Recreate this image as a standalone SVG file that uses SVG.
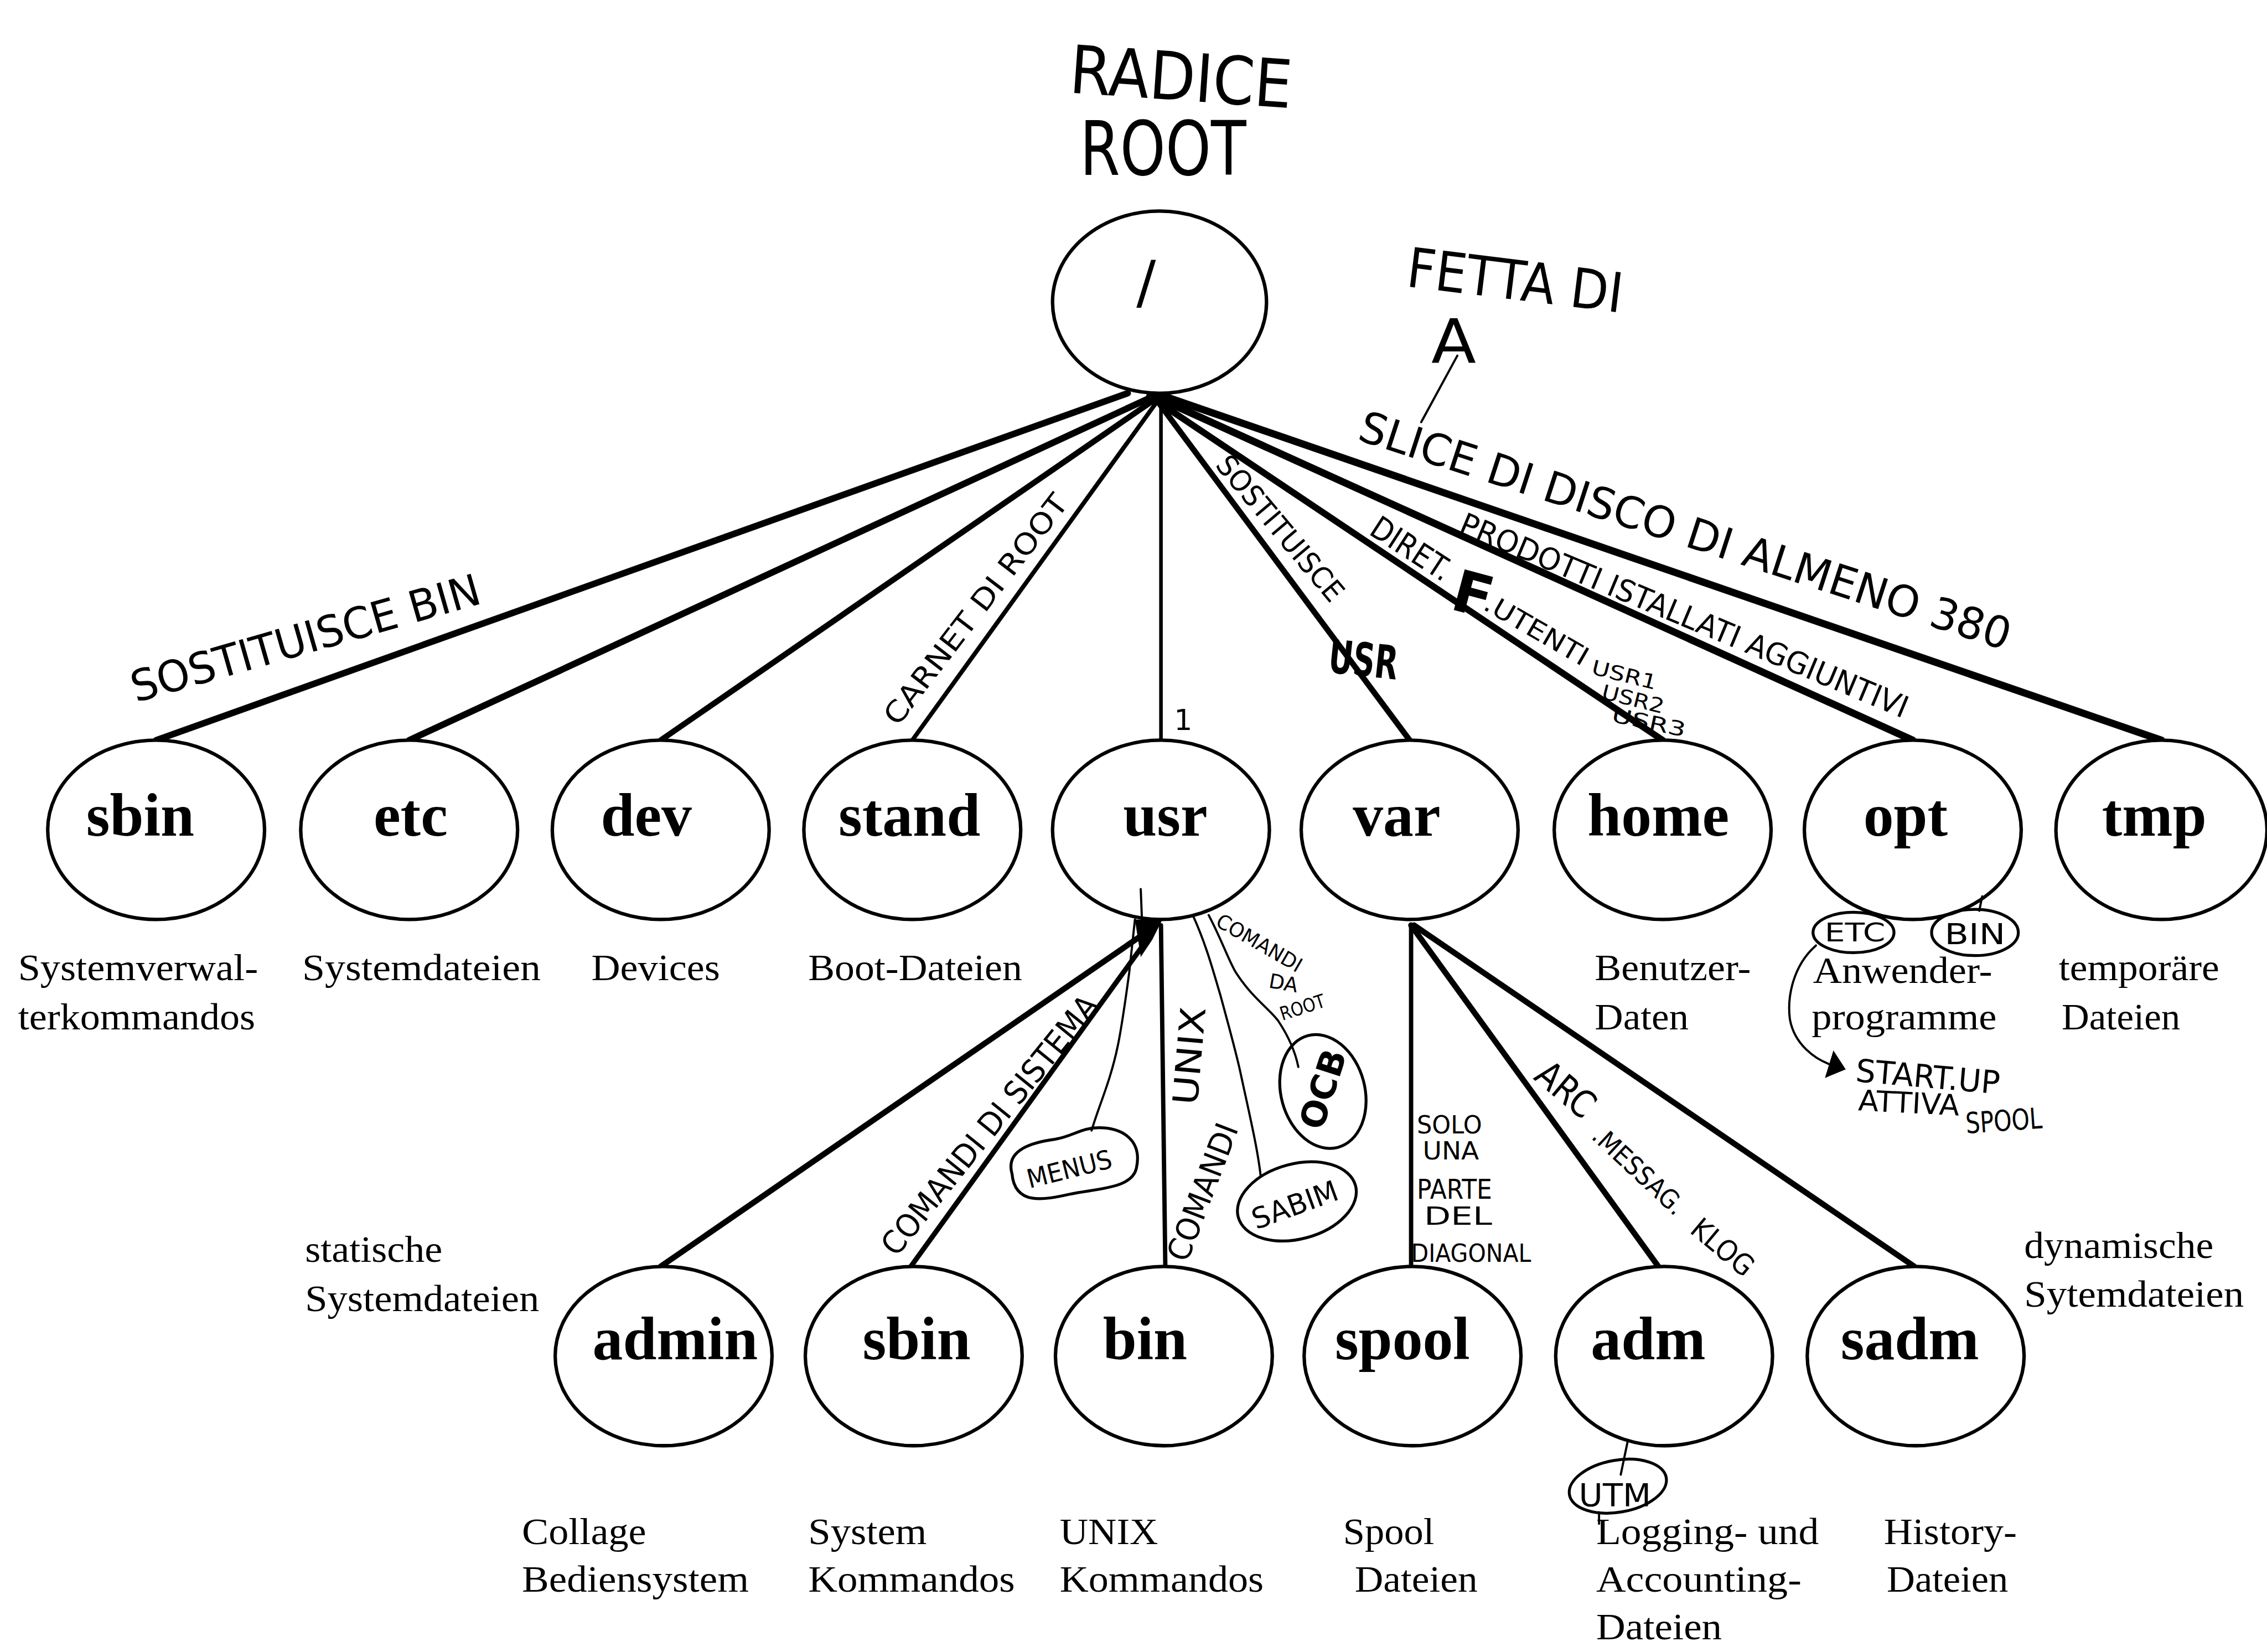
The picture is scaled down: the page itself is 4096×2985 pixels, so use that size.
<svg xmlns="http://www.w3.org/2000/svg" width="4096" height="2985" viewBox="0 0 4096 2985">
<style>
.node{fill:#fff;stroke:#000;stroke-width:2.4}
.lbl{font-family:"Liberation Serif",serif;font-weight:bold;font-size:42px;text-anchor:middle;fill:#000}
.desc{font-family:"Liberation Serif",serif;font-size:26px;fill:#000}
.hand{font-family:"DejaVu Sans","Liberation Sans",sans-serif;fill:#000}
.edge{stroke:#000;fill:none;stroke-linecap:round}
.pen{stroke:#000;fill:none;stroke-width:1.5;stroke-linecap:round;stroke-linejoin:round}
.blob{fill:none;stroke:#000;stroke-width:2}
</style>
<defs>
<marker id="head" markerUnits="userSpaceOnUse" markerWidth="12" markerHeight="20" refX="3" refY="10" orient="auto">
<path d="M0,0 L12,10 L0,20 Z" fill="#000"/>
</marker>
</defs>
<rect width="4096" height="2985" fill="#fff"/>
<g transform="scale(2.612245)">

<!-- tree connectors -->
<g id="connectors">
<path class="edge" stroke-width="4.5" d="M780,272 L108,512"/>
<path class="edge" stroke-width="4.5" d="M798,274 L283,512"/>
<path class="edge" stroke-width="4" d="M802,274 L457,512"/>
<path class="edge" stroke-width="3" d="M803,274 L631,512"/>
<path class="edge" stroke-width="2.5" d="M803,274 L803,512"/>
<path class="edge" stroke-width="4" d="M798,274 L975,512"/>
<path class="edge" stroke-width="4.5" d="M795,274 L1150,512"/>
<path class="edge" stroke-width="5" d="M798,274 L1323,512"/>
<path class="edge" stroke-width="5" d="M805,274 L1495,512"/>
<path class="edge" stroke-width="4" d="M797,642 L457,876"/>
<path class="edge" stroke-width="3.5" d="M797,645 L630,876"/>
<path class="edge" stroke-width="3" d="M803,640 L806,876"/>
<path class="edge" stroke-width="3" d="M976,640 L976,876"/>
<path class="edge" stroke-width="4" d="M976,640 L1147,876"/>
<path class="edge" stroke-width="4" d="M978,640 L1324,876"/>
<polygon points="785,636 804,636 797,650 789,662" fill="#000"/>
</g>

<!-- root -->
<g id="node-root">
<ellipse class="node" stroke-width="3" cx="802" cy="209" rx="74" ry="63"/>
</g>

<!-- first level -->
<g id="node-sbin">
<ellipse class="node" cx="108" cy="574" rx="75" ry="62"/>
<text class="lbl" x="97" y="578">sbin</text>
<text class="desc" x="12.5" y="678" textLength="166" lengthAdjust="spacingAndGlyphs">Systemverwal-</text>
<text class="desc" x="12.5" y="712" textLength="164" lengthAdjust="spacingAndGlyphs">terkommandos</text>
</g>
<g id="node-etc">
<ellipse class="node" cx="283" cy="574" rx="75" ry="62"/>
<text class="lbl" x="284" y="578">etc</text>
<text class="desc" x="209" y="678" textLength="165" lengthAdjust="spacingAndGlyphs">Systemdateien</text>
</g>
<g id="node-dev">
<ellipse class="node" cx="457" cy="574" rx="75" ry="62"/>
<text class="lbl" x="447" y="578">dev</text>
<text class="desc" x="409" y="678" textLength="89" lengthAdjust="spacingAndGlyphs">Devices</text>
</g>
<g id="node-stand">
<ellipse class="node" cx="631" cy="574" rx="75" ry="62"/>
<text class="lbl" x="629" y="578">stand</text>
<text class="desc" x="559" y="678" textLength="148" lengthAdjust="spacingAndGlyphs">Boot-Dateien</text>
</g>
<g id="node-usr">
<ellipse class="node" cx="803" cy="574" rx="75" ry="62"/>
<text class="lbl" x="806" y="578">usr</text>
</g>
<g id="node-var">
<ellipse class="node" cx="975" cy="574" rx="75" ry="62"/>
<text class="lbl" x="966" y="578">var</text>
</g>
<g id="node-home">
<ellipse class="node" cx="1150" cy="574" rx="75" ry="62"/>
<text class="lbl" x="1147" y="578">home</text>
<text class="desc" x="1103" y="678" textLength="108" lengthAdjust="spacingAndGlyphs">Benutzer-</text>
<text class="desc" x="1103" y="712" textLength="65" lengthAdjust="spacingAndGlyphs">Daten</text>
</g>
<g id="node-opt">
<ellipse class="node" cx="1323" cy="574" rx="75" ry="62"/>
<text class="lbl" x="1318" y="578">opt</text>
<text class="desc" x="1254" y="680" textLength="124" lengthAdjust="spacingAndGlyphs">Anwender-</text>
<text class="desc" x="1253" y="712" textLength="128" lengthAdjust="spacingAndGlyphs">programme</text>
</g>
<g id="node-tmp">
<ellipse class="node" cx="1495" cy="574" rx="73" ry="62"/>
<text class="lbl" x="1490" y="578">tmp</text>
<text class="desc" x="1424" y="678" textLength="111" lengthAdjust="spacingAndGlyphs">temporäre</text>
<text class="desc" x="1426" y="712" textLength="82" lengthAdjust="spacingAndGlyphs">Dateien</text>
</g>

<!-- second level -->
<g id="node-admin">
<ellipse class="node" cx="459" cy="938" rx="75" ry="62"/>
<text class="lbl" x="467" y="940">admin</text>
<text class="desc" x="361" y="1068" textLength="86" lengthAdjust="spacingAndGlyphs">Collage</text>
<text class="desc" x="361" y="1101" textLength="157" lengthAdjust="spacingAndGlyphs">Bediensystem</text>
</g>
<g id="node-usr-sbin">
<ellipse class="node" cx="632" cy="938" rx="75" ry="62"/>
<text class="lbl" x="634" y="940">sbin</text>
<text class="desc" x="559" y="1068" textLength="82" lengthAdjust="spacingAndGlyphs">System</text>
<text class="desc" x="559" y="1101" textLength="143" lengthAdjust="spacingAndGlyphs">Kommandos</text>
</g>
<g id="node-bin">
<ellipse class="node" cx="805" cy="938" rx="75" ry="62"/>
<text class="lbl" x="792" y="940">bin</text>
<text class="desc" x="733" y="1068" textLength="68" lengthAdjust="spacingAndGlyphs">UNIX</text>
<text class="desc" x="733" y="1101" textLength="141" lengthAdjust="spacingAndGlyphs">Kommandos</text>
</g>
<g id="node-spool">
<ellipse class="node" cx="977" cy="938" rx="75" ry="62"/>
<text class="lbl" x="970" y="940">spool</text>
<text class="desc" x="929" y="1068" textLength="63" lengthAdjust="spacingAndGlyphs">Spool</text>
<text class="desc" x="937" y="1101" textLength="85" lengthAdjust="spacingAndGlyphs">Dateien</text>
</g>
<g id="node-adm">
<ellipse class="node" cx="1151" cy="938" rx="75" ry="62"/>
<text class="lbl" x="1140" y="940">adm</text>
<text class="desc" x="1104" y="1068" textLength="154" lengthAdjust="spacingAndGlyphs">Logging- und</text>
<text class="desc" x="1104" y="1101" textLength="142" lengthAdjust="spacingAndGlyphs">Accounting-</text>
<text class="desc" x="1104" y="1134" textLength="87" lengthAdjust="spacingAndGlyphs">Dateien</text>
</g>
<g id="node-sadm">
<ellipse class="node" cx="1325" cy="938" rx="75" ry="62"/>
<text class="lbl" x="1321" y="940">sadm</text>
<text class="desc" x="1303" y="1068" textLength="92" lengthAdjust="spacingAndGlyphs">History-</text>
<text class="desc" x="1305" y="1101" textLength="84" lengthAdjust="spacingAndGlyphs">Dateien</text>
</g>

<!-- side captions -->
<g id="captions">
<text class="desc" x="211" y="873" textLength="95" lengthAdjust="spacingAndGlyphs">statische</text>
<text class="desc" x="211" y="907" textLength="162" lengthAdjust="spacingAndGlyphs">Systemdateien</text>
<text class="desc" x="1400" y="870" textLength="131" lengthAdjust="spacingAndGlyphs">dynamische</text>
<text class="desc" x="1400" y="904" textLength="152" lengthAdjust="spacingAndGlyphs">Sytemdateien</text>
</g>

<!-- handwritten notes -->
<g id="notes">
<text class="hand" font-size="46" transform="translate(739,64) rotate(4)" textLength="154" lengthAdjust="spacingAndGlyphs">RADICE</text>
<text class="hand" font-size="52" x="747" y="121" textLength="115" lengthAdjust="spacingAndGlyphs">ROOT</text>
<text class="hand" font-size="40" x="786" y="209">/</text>

<text class="hand" font-size="38" transform="translate(972,198) rotate(7)" textLength="150" lengthAdjust="spacingAndGlyphs">FETTA DI</text>
<text class="hand" font-size="42" x="990" y="251" textLength="31" lengthAdjust="spacingAndGlyphs">A</text>
<path class="pen" d="M983,292 L1008,246"/>

<text class="hand" font-size="30" transform="translate(938,304) rotate(18)" textLength="472" lengthAdjust="spacingAndGlyphs">SLICE DI DISCO DI ALMENO 380</text>
<text class="hand" font-size="21" transform="translate(1008,368) rotate(22.7)" textLength="334" lengthAdjust="spacingAndGlyphs">PRODOTTI ISTALLATI AGGIUNTIVI</text>

<text class="hand" font-size="22" transform="translate(946,369) rotate(33)" textLength="62" lengthAdjust="spacingAndGlyphs">DIRET.</text>
<text class="hand" font-size="40" font-weight="bold" transform="translate(1002,421) rotate(15)">F</text>
<text class="hand" font-size="18" transform="translate(1025,421) rotate(30)" textLength="80" lengthAdjust="spacingAndGlyphs">.UTENTI</text>
<text class="hand" font-size="14" transform="translate(1100,466) rotate(14)" textLength="46" lengthAdjust="spacingAndGlyphs">USR1</text>
<text class="hand" font-size="14" transform="translate(1107,483) rotate(14)" textLength="44" lengthAdjust="spacingAndGlyphs">USR2</text>
<text class="hand" font-size="14" transform="translate(1114,499) rotate(12)" textLength="52" lengthAdjust="spacingAndGlyphs">USR3</text>

<text class="hand" font-size="20" transform="translate(840,322) rotate(50)" textLength="125" lengthAdjust="spacingAndGlyphs">SOSTITUISCE</text>
<text class="hand" font-size="32" font-weight="bold" transform="translate(918,465) rotate(6)" textLength="48" lengthAdjust="spacingAndGlyphs">USR</text>

<text class="hand" font-size="20" transform="translate(621,503) rotate(-52.5)" textLength="195" lengthAdjust="spacingAndGlyphs">CARNET DI ROOT</text>
<text class="hand" font-size="30" transform="translate(94,486) rotate(-16)" textLength="250" lengthAdjust="spacingAndGlyphs">SOSTITUISCE BIN</text>
<text class="hand" font-size="20" x="812" y="505">1</text>

<!-- notes under usr -->
<path class="pen" d="M789,615 L790,640"/>
<text class="hand" font-size="22" transform="translate(620,870) rotate(-51)" textLength="224" lengthAdjust="spacingAndGlyphs">COMANDI DI SISTEMA</text>
<path class="pen" d="M785,636 L781,673 C778,695 776,710 773,724 C768,748 760,765 755,782"/>
<path class="blob" d="M700,812 C695,795 715,790 730,788 C742,786 748,780 760,780 C778,780 790,790 786,808 C783,822 760,822 740,826 C722,830 702,834 700,812 Z"/>
<text class="hand" font-size="18" transform="translate(712,822) rotate(-14)" textLength="60" lengthAdjust="spacingAndGlyphs">MENUS</text>
<text class="hand" font-size="24" transform="translate(828,765) rotate(-85)" textLength="68" lengthAdjust="spacingAndGlyphs">UNIX</text>
<text class="hand" font-size="22" transform="translate(821,874) rotate(-69)" textLength="100" lengthAdjust="spacingAndGlyphs">COMANDI</text>
<text class="hand" font-size="14" transform="translate(840,640) rotate(30)" textLength="66" lengthAdjust="spacingAndGlyphs">COMANDI</text>
<text class="hand" font-size="14" transform="translate(877,683) rotate(10)">DA</text>
<text class="hand" font-size="13" transform="translate(887,706) rotate(-18)" textLength="32" lengthAdjust="spacingAndGlyphs">ROOT</text>
<path class="pen" d="M836,633 C845,650 850,665 855,673 C866,690 878,698 884,706 C892,718 896,728 898,738"/>
<ellipse class="blob" cx="915" cy="755" rx="29" ry="40" transform="rotate(-15 915 755)"/>
<text class="hand" font-size="24" font-weight="bold" text-anchor="middle" transform="translate(923,756) rotate(-72)">OCB</text>
<path class="pen" d="M825,633 C835,655 840,675 844,688 C850,710 855,728 858,742 C864,770 870,795 872,814"/>
<ellipse class="blob" cx="897" cy="831" rx="42" ry="26" transform="rotate(-15 897 831)"/>
<text class="hand" font-size="20" text-anchor="middle" transform="translate(898,840) rotate(-20)" textLength="62" lengthAdjust="spacingAndGlyphs">SABIM</text>

<!-- notes under var -->
<text class="hand" font-size="17" x="980" y="784" textLength="45" lengthAdjust="spacingAndGlyphs">SOLO</text>
<text class="hand" font-size="17" x="984" y="802" textLength="39" lengthAdjust="spacingAndGlyphs">UNA</text>
<text class="hand" font-size="19" x="980" y="829" textLength="52" lengthAdjust="spacingAndGlyphs">PARTE</text>
<text class="hand" font-size="17" x="985" y="847" textLength="47" lengthAdjust="spacingAndGlyphs">DEL</text>
<text class="hand" font-size="17" x="976" y="873" textLength="83" lengthAdjust="spacingAndGlyphs">DIAGONAL</text>
<text class="hand" font-size="26" transform="translate(1060,746) rotate(40)" textLength="45" lengthAdjust="spacingAndGlyphs">ARC</text>
<text class="hand" font-size="18" transform="translate(1100,787) rotate(43)" textLength="80" lengthAdjust="spacingAndGlyphs">.MESSAG.</text>
<text class="hand" font-size="20" transform="translate(1168,852) rotate(40)" textLength="50" lengthAdjust="spacingAndGlyphs">KLOG</text>

<!-- note under adm -->
<path class="pen" stroke-width="2.2" d="M1126,996 L1121,1020"/>
<ellipse class="blob" cx="1119" cy="1028" rx="34" ry="18" transform="rotate(-10 1119 1028)"/>
<text class="hand" font-size="22" x="1092" y="1042" textLength="50" lengthAdjust="spacingAndGlyphs">UTM</text>
<path class="pen" stroke-width="2" d="M1106,1046 L1106,1054"/>

<!-- notes under opt -->
<ellipse class="blob" stroke-width="2.4" cx="1282" cy="645" rx="28" ry="14"/>
<text class="hand" font-size="18" text-anchor="middle" x="1283" y="651" textLength="42" lengthAdjust="spacingAndGlyphs">ETC</text>
<path class="pen" d="M1371,620 L1369,630"/>
<ellipse class="blob" cx="1366" cy="645" rx="30" ry="16"/>
<text class="hand" font-size="20" text-anchor="middle" x="1366" y="653" textLength="42" lengthAdjust="spacingAndGlyphs">BIN</text>
<path class="pen" stroke-width="2" d="M1256,654 C1240,668 1236,690 1238,705 C1241,722 1255,733 1268,737" marker-end="url(#head)"/>
<text class="hand" font-size="22" transform="translate(1283,748) rotate(5)" textLength="100" lengthAdjust="spacingAndGlyphs">START.UP</text>
<text class="hand" font-size="20" transform="translate(1285,768) rotate(3)" textLength="70" lengthAdjust="spacingAndGlyphs">ATTIVA</text>
<text class="hand" font-size="20" transform="translate(1360,784) rotate(-4)" textLength="53" lengthAdjust="spacingAndGlyphs">SPOOL</text>
</g>
</g>
</svg>
